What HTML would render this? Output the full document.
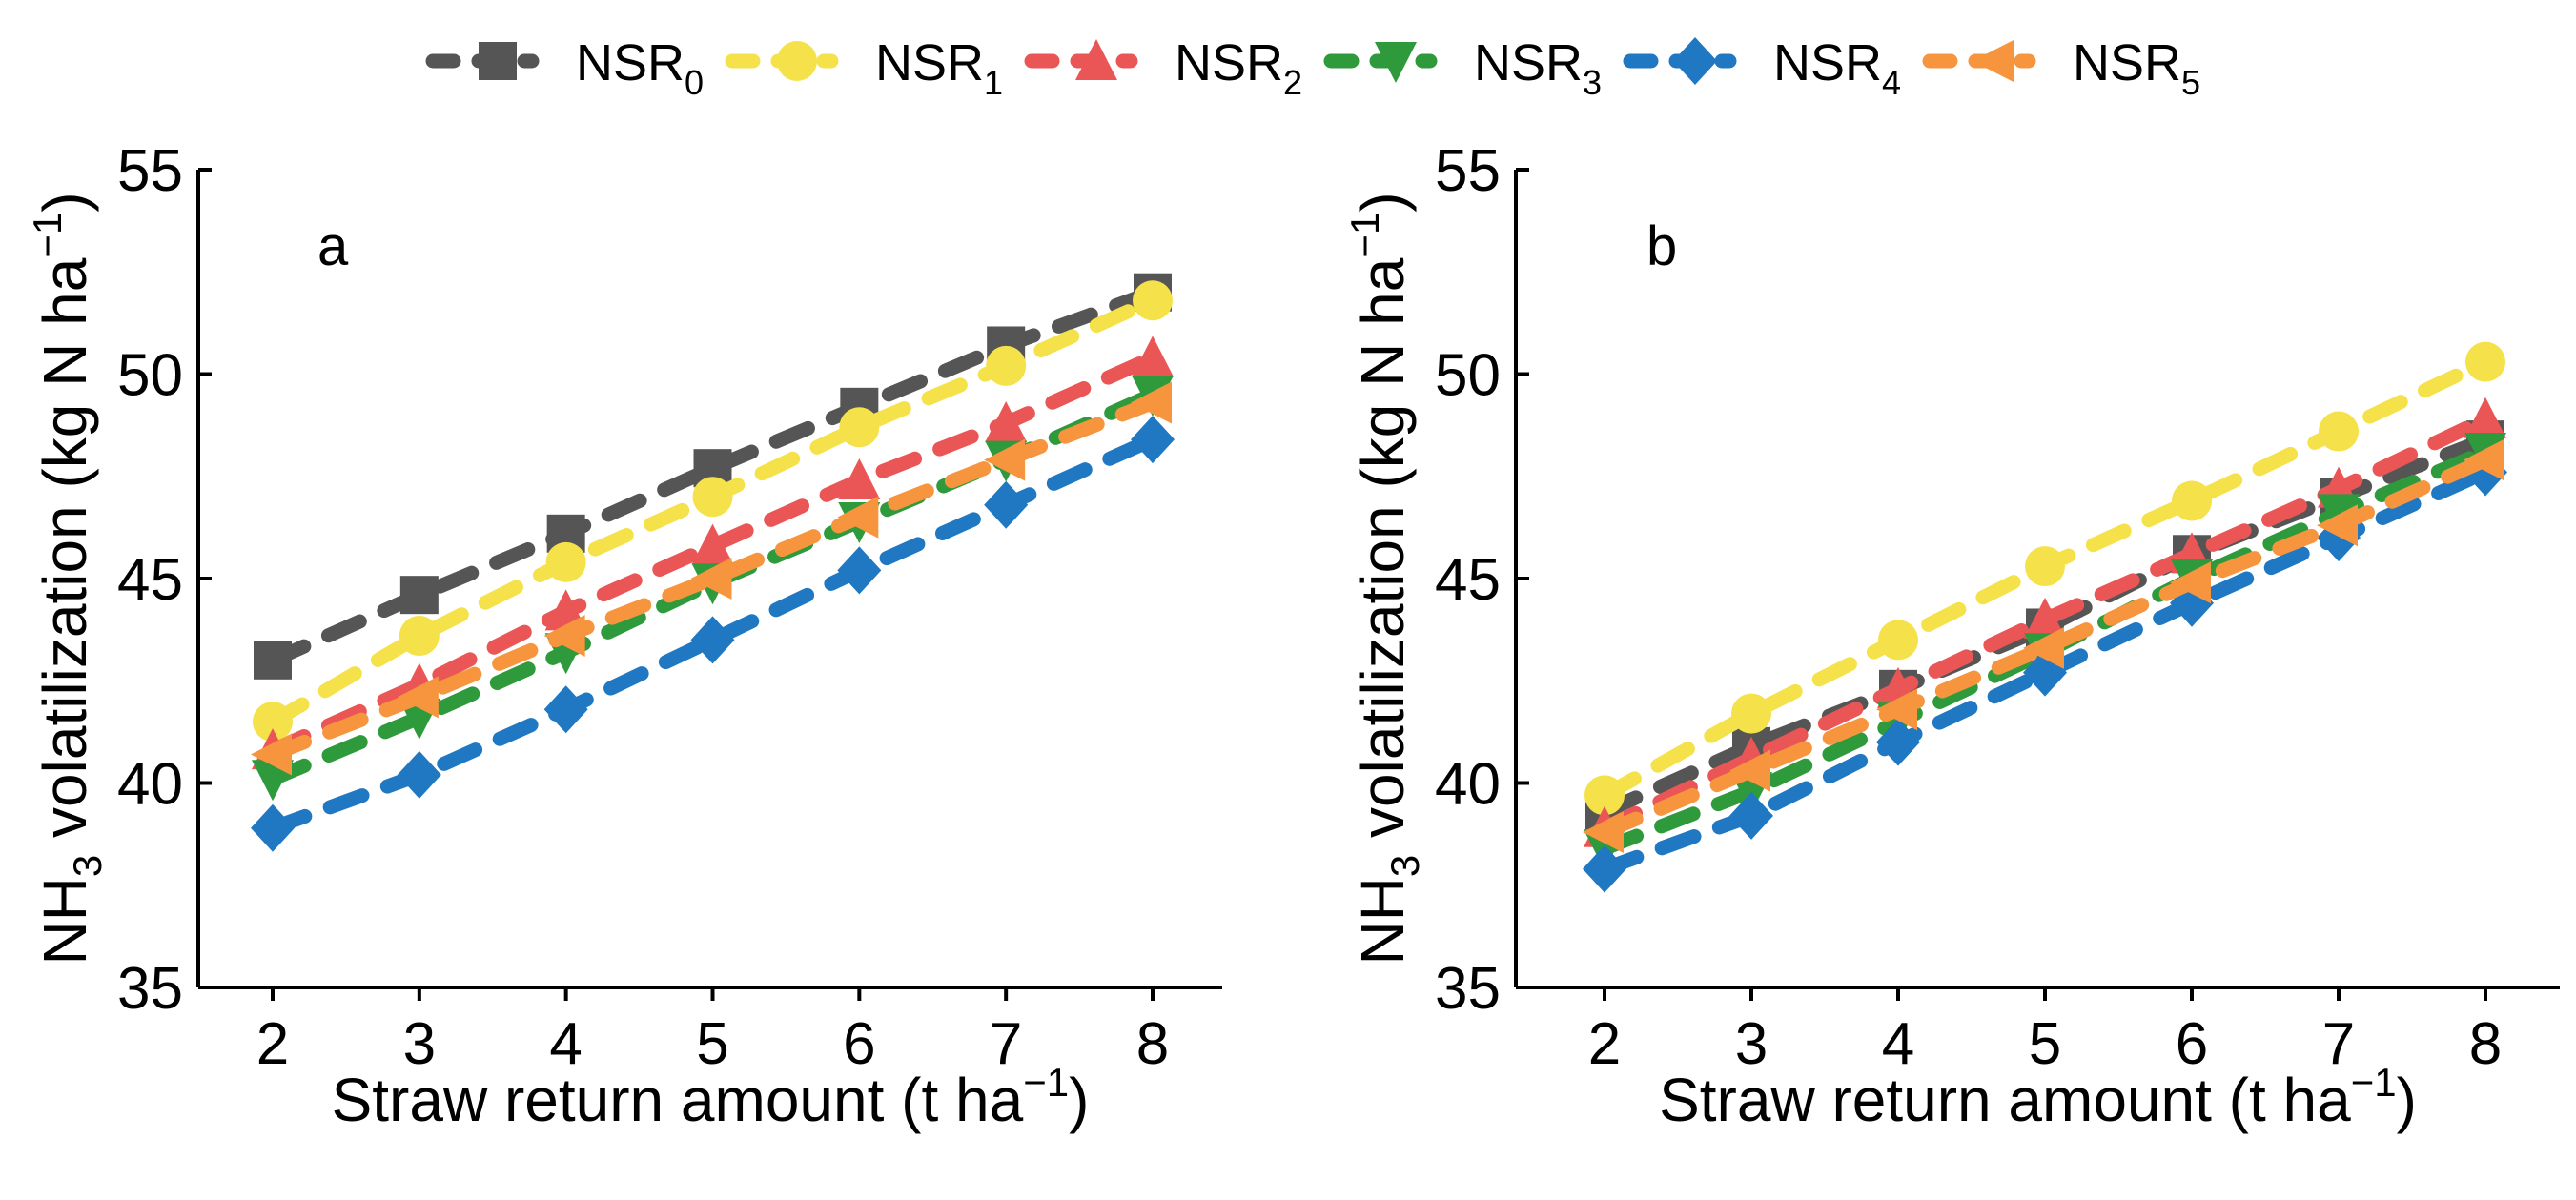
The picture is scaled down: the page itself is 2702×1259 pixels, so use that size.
<!DOCTYPE html>
<html><head><meta charset="utf-8"><style>
html,body{margin:0;padding:0;background:#fff;}
svg{display:block;font-family:"Liberation Sans",Arial,sans-serif;}
</style></head><body>
<svg id="chart" width="2702" height="1259" viewBox="0 0 2702 1259" xmlns="http://www.w3.org/2000/svg">
<g id="legend"></g>
<g id="panelA"></g>
<g id="panelB"></g>
</svg>
<script>
const xValues = [2, 3, 4, 5, 6, 7, 8];
const xTicks = [2, 3, 4, 5, 6, 7, 8];
const yTicks = [35, 40, 45, 50, 55];
const seriesNames = ["0", "1", "2", "3", "4", "5"];
const seriesColors = ["#555555", "#f5e24a", "#ea5656", "#2f9a3c", "#1f78c1", "#f7953f"];
const seriesMarkers = ["square", "circle", "triangle-up", "triangle-down", "diamond", "triangle-left"];
// Panel a
const aNSR0 = [43.0, 44.6, 46.1, 47.7, 49.2, 50.7, 52.0];
const aNSR1 = [41.5, 43.6, 45.4, 47.0, 48.7, 50.2, 51.8];
const aNSR2 = [40.8, 42.4, 44.2, 45.8, 47.4, 48.8, 50.4];
const aNSR3 = [40.1, 41.6, 43.2, 44.9, 46.4, 47.9, 49.5];
const aNSR4 = [38.9, 40.2, 41.8, 43.5, 45.2, 46.8, 48.4];
const aNSR5 = [40.7, 42.1, 43.6, 45.0, 46.5, 47.9, 49.3];
// Panel b
const bNSR0 = [39.3, 40.9, 42.3, 43.8, 45.6, 47.0, 48.4];
const bNSR1 = [39.7, 41.7, 43.5, 45.3, 46.9, 48.6, 50.3];
const bNSR2 = [38.9, 40.6, 42.3, 44.0, 45.6, 47.2, 48.9];
const bNSR3 = [38.4, 39.8, 41.5, 43.2, 45.0, 46.6, 48.1];
const bNSR4 = [37.9, 39.2, 41.0, 42.7, 44.4, 46.0, 47.6];
const bNSR5 = [38.8, 40.3, 41.8, 43.3, 44.9, 46.3, 47.9];

const NS = "http://www.w3.org/2000/svg";
function mk(tag, attrs, parent){const e=document.createElementNS(NS,tag);for(const k in attrs)e.setAttribute(k,attrs[k]);parent.appendChild(e);return e;}

function markerShape(type, cx, cy, color, parent){
  const s = 20; let e;
  if(type==="square") e = mk("rect",{x:cx-s,y:cy-s,width:2*s,height:2*s,fill:color},parent);
  else if(type==="circle") e = mk("circle",{cx:cx,cy:cy,r:s+1,fill:color},parent);
  else if(type==="triangle-up") e = mk("polygon",{points:`${cx},${cy-s-3} ${cx+s+2},${cy+s} ${cx-s-2},${cy+s}`,fill:color},parent);
  else if(type==="triangle-down") e = mk("polygon",{points:`${cx},${cy+s+3} ${cx+s+2},${cy-s} ${cx-s-2},${cy-s}`,fill:color},parent);
  else if(type==="diamond") e = mk("polygon",{points:`${cx},${cy-s-5} ${cx+s+3},${cy} ${cx},${cy+s+5} ${cx-s-3},${cy}`,fill:color},parent);
  else e = mk("polygon",{points:`${cx-s-3},${cy} ${cx+s},${cy-s-2} ${cx+s},${cy+s+2}`,fill:color},parent);
  return e;
}

function drawPanel(g, cfg, seriesList, label){
  const yMin=35,yMax=55;
  const xS = v => cfg.x2 + (v-2)*(cfg.x8-cfg.x2)/6;
  const yS = v => cfg.yBot - (v-yMin)*(cfg.yBot-cfg.yTop)/(yMax-yMin);
  const yAxis = mk("line",{x1:cfg.axX,y1:cfg.yTop,x2:cfg.axX,y2:cfg.yBot,stroke:"#000","stroke-width":4},g);
  
  
  const xAxis = mk("line",{x1:cfg.axX,y1:cfg.yBot,x2:cfg.axEnd,y2:cfg.yBot,stroke:"#000","stroke-width":4},g);
  
  
  yTicks.forEach(t=>{
    const y=yS(t);
    const tk=mk("line",{x1:cfg.axX,y1:y,x2:cfg.axX+14,y2:y,stroke:"#000","stroke-width":4},g);
    
    
    const tl=mk("text",{x:cfg.axX-16,y:y+22,"text-anchor":"end","font-size":62},g);
    tl.textContent=t;
    
    
  });
  xTicks.forEach(t=>{
    const x=xS(t);
    const tk=mk("line",{x1:x,y1:cfg.yBot,x2:x,y2:cfg.yBot+14,stroke:"#000","stroke-width":4},g);
    
    
    const tl=mk("text",{x:x,y:cfg.yBot+80,"text-anchor":"middle","font-size":62},g);
    tl.textContent=t;
    
    
  });
  const xt=mk("text",{x:(cfg.axX+cfg.axEnd)/2,y:1176,"text-anchor":"middle","font-size":64},g);
  xt.innerHTML='Straw return amount (t ha<tspan dy="-26" font-size="42">−1</tspan><tspan dy="26">)</tspan>';
  
  
  const yt=mk("text",{x:0,y:0,"text-anchor":"middle","font-size":64,transform:`translate(${cfg.axX-118},${(cfg.yTop+cfg.yBot)/2}) rotate(-90)`},g);
  yt.innerHTML='NH<tspan dy="16" font-size="42">3</tspan><tspan dy="-16"> volatilization (kg N ha</tspan><tspan dy="-26" font-size="42">−1</tspan><tspan dy="26">)</tspan>';
  
  
  const pl=mk("text",{x:cfg.labelX,y:278,"font-size":58},g);
  pl.textContent=label;
  
  
  seriesList.forEach((vals,i)=>{
    const sg=mk("g",{},g);
    
    
    const pts=vals.map((v,j)=>xS(xValues[j])+","+yS(v)).join(" ");
    const ln=mk("polyline",{points:pts,fill:"none",stroke:seriesColors[i],"stroke-width":15,"stroke-dasharray":"36 28","stroke-linecap":"round"},sg);
    
    
    vals.forEach((v,j)=>{
      const m=markerShape(seriesMarkers[i],xS(xValues[j]),yS(v),seriesColors[i],sg);
      
      
    });
  });
}

drawPanel(document.getElementById("panelA"),{axX:208,axEnd:1282,x2:286,x8:1209,yTop:178,yBot:1036,labelX:333},[aNSR0,aNSR1,aNSR2,aNSR3,aNSR4,aNSR5],"a");
drawPanel(document.getElementById("panelB"),{axX:1590,axEnd:2685,x2:1683,x8:2607,yTop:178,yBot:1036,labelX:1727},[bNSR0,bNSR1,bNSR2,bNSR3,bNSR4,bNSR5],"b");

const lg=document.getElementById("legend");
seriesNames.forEach((n,i)=>{
  const x0=446+i*314;
  const eg=mk("g",{},lg);
  
  
  const ln=mk("line",{x1:x0+8,y1:64,x2:x0+112,y2:64,stroke:seriesColors[i],"stroke-width":15,"stroke-dasharray":"22 26","stroke-linecap":"round"},eg);
  
  
  const m=markerShape(seriesMarkers[i],x0+76,64,seriesColors[i],eg);
  
  
  const t=mk("text",{x:x0+158,y:84,"font-size":54},eg);
  t.innerHTML='NSR<tspan dy="15" font-size="36">'+n+'</tspan>';
  
  
});
</script>
</body></html>
